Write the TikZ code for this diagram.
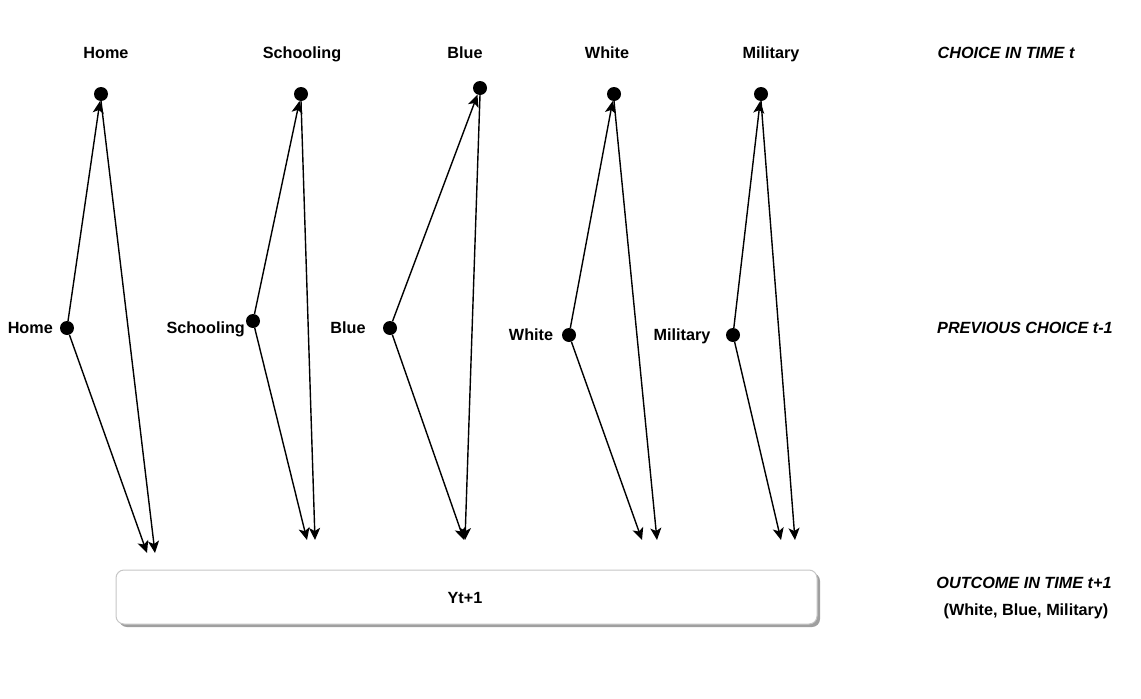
\documentclass[tikz,border=0pt]{standalone}
\usepackage{fontspec}
\setmainfont{Liberation Sans}
\usetikzlibrary{arrows.meta,shadows}
\tikzset{
  dot/.style={circle,fill=black,inner sep=0pt,minimum size=14pt},
  lbl/.style={font=\fontsize{16.2}{19}\selectfont\bfseries,inner sep=0pt,anchor=base},
  hdr/.style={font=\fontsize{16.2}{19}\selectfont\bfseries\itshape,inner sep=0pt,anchor=base},
  conn/.style={line width=1.4pt,>={Stealth[length=12pt,width=11pt,inset=3pt]},->},
  outbox/.style={draw=gray!45,line width=1pt,rounded corners=8pt,fill=white,
    drop shadow={shadow xshift=3pt,shadow yshift=-3pt,fill=gray!75,opacity=1}}
}
\begin{document}
\begin{tikzpicture}
\begin{scope}[x=1pt,y=-1pt]
\useasboundingbox (0,0) rectangle (1141,699);
% top labels
\node[lbl] (tHome) at (106,58) {Home};
\node[lbl] (tSch) at (302,58) {Schooling};
\node[lbl] (tBlue) at (465,58) {Blue};
\node[lbl] (tWhite) at (607,58) {White};
\node[lbl] (tMil) at (771,58) {Military};
\node[hdr] (h1) at (1006,58) {CHOICE IN TIME t};
\node[hdr] (h2) at (1025,333) {PREVIOUS CHOICE t-1};
\node[hdr] (h3) at (1024,588) {OUTCOME IN TIME t+1};
\node[lbl] (h4) at (1026,615) {(White, Blue, Military)};
% top dots
\node[dot] (a1) at (101,94) {};
\node[dot] (a2) at (301,94) {};
\node[dot] (a3) at (480,88) {};
\node[dot] (a4) at (614,94) {};
\node[dot] (a5) at (761,94) {};
% middle dots
\node[dot] (b1) at (67,328) {};
\node[dot] (b2) at (253,321) {};
\node[dot] (b3) at (390,328) {};
\node[dot] (b4) at (569,335) {};
\node[dot] (b5) at (733,335) {};
% middle labels
\node[lbl,anchor=base east] (mHome) at (53,333) {Home};
\node[lbl,anchor=base east] (mSch) at (245,333) {Schooling};
\node[lbl] (mBlue) at (348,333) {Blue};
\node[lbl] (mWhite) at (531,340) {White};
\node[lbl] (mMil) at (682,340) {Military};
% bottom ends
\coordinate (c1a) at (147,553); \coordinate (c1b) at (155,553);
\coordinate (c2a) at (307,540); \coordinate (c2b) at (315,540);
\coordinate (c3a) at (464,540); \coordinate (c3b) at (465,540);
\coordinate (c4a) at (642,540); \coordinate (c4b) at (657,540);
\coordinate (c5a) at (781,540); \coordinate (c5b) at (795,540);
% box
\node[outbox,minimum width=701pt,minimum height=54pt,inner sep=0pt] (box) at (466.5,597) {};
\node[lbl] (y) at (465,603) {Yt+1};
\end{scope}
% connectors
\foreach \i in {1,...,5}{
  \draw[conn] (b\i) -- (a\i);
  \draw[conn] (b\i) -- (c\i a);
  \draw[conn] ([yshift=-7pt]a\i.center) -- (c\i b);
}
\end{tikzpicture}
\end{document}
